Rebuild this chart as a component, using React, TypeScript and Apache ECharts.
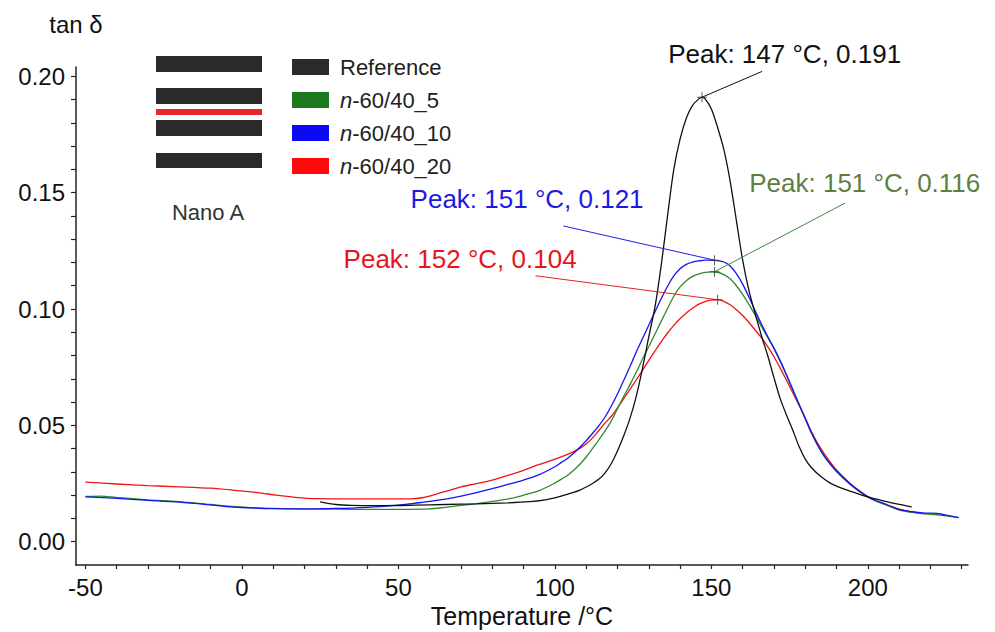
import React, { useEffect, useRef } from "react";
import * as echarts from "echarts";

const FONT = "'Liberation Sans', Arial, Helvetica, sans-serif";

const seriesNames = ["Reference", "n-60/40_5", "n-60/40_10", "n-60/40_20"];
const lineColors = ["#111111", "#2f8a2f", "#1414f0", "#f01414"];
const legendColors = ["#2a2a2a", "#1f7a1f", "#0a0af5", "#ff0a0a"];

const referenceData: [number, number][] = [
  [25, 0.0171], [30, 0.016], [35, 0.0156], [43, 0.0155], [55, 0.0157], [65, 0.016], [75, 0.0163],
  [85, 0.0167], [92, 0.0172], [97, 0.018], [100, 0.0188], [102, 0.0196], [104, 0.0204], [106, 0.0212],
  [108, 0.0222], [110, 0.0235], [112, 0.025], [114, 0.0268], [116, 0.0295], [118, 0.0335], [120, 0.039],
  [122, 0.0455], [124, 0.053], [126, 0.0625], [128, 0.0745], [130, 0.088], [132, 0.101], [134, 0.119],
  [136, 0.14], [138, 0.16], [140, 0.173], [142, 0.182], [144, 0.1875], [146, 0.1903], [147, 0.191],
  [148, 0.1903], [150, 0.186], [152, 0.178], [154, 0.1685], [156, 0.155], [158, 0.138], [160, 0.121],
  [162, 0.108], [164, 0.098], [166, 0.0885], [168, 0.08], [170, 0.0705], [172, 0.0615], [174, 0.0545],
  [176, 0.048], [178, 0.041], [180, 0.0355], [182, 0.0318], [185, 0.028], [188, 0.0252], [192, 0.0228],
  [196, 0.021], [200, 0.0193], [204, 0.0179], [208, 0.0166], [211, 0.0158], [214, 0.015],
];

const n5Data: [number, number][] = [
  [-50, 0.0195], [-45, 0.0196], [-40, 0.019], [-30, 0.018], [-20, 0.0172], [-10, 0.016], [0, 0.0149],
  [10, 0.0143], [20, 0.0141], [30, 0.014], [40, 0.0139], [50, 0.0139], [60, 0.0141], [65, 0.0148],
  [70, 0.0156], [75, 0.0164], [80, 0.0173], [86, 0.0186], [90, 0.02], [95, 0.022], [100, 0.0252],
  [102, 0.0268], [104, 0.0285], [106, 0.0307], [108, 0.0333], [110, 0.0364], [112, 0.04], [114, 0.0437],
  [116, 0.0475], [118, 0.0518], [120, 0.0572], [122, 0.0625], [124, 0.0675], [126, 0.0728], [128, 0.0785],
  [130, 0.0838], [132, 0.0893], [134, 0.0948], [136, 0.1002], [138, 0.1055], [140, 0.1095], [142, 0.1122],
  [144, 0.114], [146, 0.1151], [148, 0.1157], [150, 0.116], [152, 0.1158], [154, 0.1148], [156, 0.113],
  [158, 0.11], [160, 0.1063], [162, 0.102], [164, 0.0973], [166, 0.0925], [168, 0.0878], [170, 0.083],
  [172, 0.0775], [174, 0.0715], [176, 0.0652], [178, 0.059], [180, 0.0528], [182, 0.0466], [184, 0.0413],
  [186, 0.0368], [188, 0.0333], [190, 0.0302], [194, 0.025], [197, 0.0218], [200, 0.0192], [203, 0.0172],
  [206, 0.0157], [210, 0.0136], [214, 0.0126], [218, 0.012], [222, 0.0116], [225, 0.0111], [229, 0.0104],
];

const n10Data: [number, number][] = [
  [-50, 0.0193], [-40, 0.0186], [-30, 0.0178], [-20, 0.017], [-10, 0.0158], [-5, 0.0151], [0, 0.0147],
  [10, 0.0142], [20, 0.0141], [30, 0.0143], [40, 0.0148], [50, 0.0157], [55, 0.0165], [60, 0.0173],
  [65, 0.0183], [70, 0.0196], [75, 0.0211], [80, 0.0228], [85, 0.0246], [90, 0.0265], [95, 0.0288],
  [100, 0.0322], [102, 0.034], [104, 0.0358], [106, 0.038], [108, 0.0406], [110, 0.0434], [112, 0.0465],
  [114, 0.0498], [116, 0.0535], [118, 0.0582], [120, 0.0635], [122, 0.0693], [124, 0.0753], [126, 0.0815],
  [128, 0.0873], [130, 0.093], [132, 0.0988], [134, 0.1045], [136, 0.1098], [138, 0.1142], [140, 0.1173],
  [142, 0.1192], [144, 0.1202], [146, 0.1207], [148, 0.121], [150, 0.121], [152, 0.1208], [154, 0.1202],
  [156, 0.1185], [158, 0.1152], [160, 0.1107], [162, 0.1052], [164, 0.0992], [166, 0.0935], [168, 0.0882],
  [170, 0.0832], [172, 0.0778], [174, 0.0718], [176, 0.0655], [178, 0.0592], [180, 0.053], [182, 0.0468],
  [184, 0.0415], [186, 0.037], [188, 0.0335], [190, 0.0303], [194, 0.0252], [197, 0.022], [200, 0.0193],
  [203, 0.0175], [206, 0.016], [210, 0.0139], [214, 0.0129], [218, 0.0123], [222, 0.0122], [225, 0.0114],
  [229, 0.0104],
];

const n20Data: [number, number][] = [
  [-50, 0.0256], [-40, 0.0248], [-30, 0.0241], [-20, 0.0236], [-10, 0.023], [-3, 0.0222], [5, 0.0211],
  [11, 0.02], [17, 0.0191], [24, 0.0185], [35, 0.0184], [45, 0.0184], [54, 0.0184], [58, 0.019],
  [62, 0.0204], [66, 0.022], [70, 0.0236], [75, 0.025], [80, 0.0265], [85, 0.0285], [90, 0.0307],
  [95, 0.0332], [100, 0.0355], [102, 0.0365], [104, 0.0375], [106, 0.0387], [108, 0.0401], [110, 0.042],
  [112, 0.0445], [114, 0.0477], [116, 0.051], [118, 0.0538], [120, 0.0575], [122, 0.0615], [124, 0.0655],
  [126, 0.0695], [128, 0.0736], [130, 0.0779], [132, 0.082], [134, 0.086], [136, 0.0897], [138, 0.093],
  [140, 0.0958], [142, 0.0983], [144, 0.1003], [146, 0.1021], [148, 0.1032], [150, 0.1038], [152, 0.104],
  [154, 0.1033], [156, 0.1018], [158, 0.0997], [160, 0.0972], [162, 0.0942], [164, 0.091], [166, 0.0877],
  [168, 0.0838], [170, 0.0795], [172, 0.0746], [174, 0.0694], [176, 0.064], [178, 0.0587], [180, 0.0532],
  [182, 0.0472], [184, 0.0422], [186, 0.038], [188, 0.0342], [190, 0.0308], [194, 0.0255], [197, 0.0222],
  [200, 0.0194], [203, 0.0174], [206, 0.0158], [210, 0.014], [214, 0.0128], [218, 0.0122],
];

const seriesData = [referenceData, n5Data, n10Data, n20Data];

// Peak annotations (data coordinates)
const peakLabels = ["Peak: 147 °C, 0.191", "Peak: 151 °C, 0.116", "Peak: 151 °C, 0.121", "Peak: 152 °C, 0.104"];
const peakPoints: [number, number][] = [[147, 0.191], [151, 0.116], [151, 0.121], [152, 0.104]];
const labelAnchors: [number, number][] = [[136.2, 0.2094], [162.1, 0.1541], [53.9, 0.1472], [32.5, 0.1215]];
const leaderStarts: [number, number][] = [[166.2, 0.2021], [192.7, 0.1455], [102.7, 0.1357], [93.8, 0.1143]];
const annotationColors = ["#111111", "#5e7f40", "#1a1ae6", "#e8141c"];
const leaderColors = ["#111111", "#3f8a3f", "#2020e6", "#e82020"];

const xLabelValues = [-50, 0, 50, 100, 150, 200];
const xTickValues = [-50, -40, -30, -20, -10, 0, 10, 20, 30, 40, 50, 60, 70, 80, 90, 100, 110, 120, 130, 140, 150, 160, 170, 180, 190, 200, 210, 220, 230];
const yLabelValues = [0, 0.05, 0.1, 0.15, 0.2];
const yTickValues = [0, 0.01, 0.02, 0.03, 0.04, 0.05, 0.06, 0.07, 0.08, 0.09, 0.1, 0.11, 0.12, 0.13, 0.14, 0.15, 0.16, 0.17, 0.18, 0.19, 0.2];

const CROSS = "path://M4.5,0h1v4.5h4.5v1h-4.5v4.5h-1v-4.5h-4.5v-1h4.5z";

export default function App() {
  const ref = useRef<HTMLDivElement>(null);

  useEffect(() => {
    if (!ref.current) return;
    const chart = echarts.init(ref.current, undefined, { renderer: "svg" });

    const drawOrder = [3, 1, 2, 0];
    const mainSeries = drawOrder.map((i) => ({
      name: seriesNames[i],
      type: "line",
      data: seriesData[i],
      showSymbol: false,
      symbol: "none",
      smooth: 0.3,
      itemStyle: { color: legendColors[i] },
      lineStyle: { color: lineColors[i], width: 1.3 },
      emphasis: { disabled: true },
      z: 2,
    }));

    const leaderSeries = peakPoints.map((p, i) => ({
      name: "leader" + i,
      type: "line",
      data: [leaderStarts[i], p],
      symbol: "none",
      clip: false,
      silent: true,
      lineStyle: { color: leaderColors[i], width: 1 },
      emphasis: { disabled: true },
      z: 3,
    }));

    const crossSeries = {
      name: "peaks",
      type: "scatter",
      symbol: CROSS,
      symbolSize: 10,
      silent: true,
      clip: false,
      data: peakPoints.map((p) => ({ value: p, itemStyle: { color: "#3a3a3a" } })),
      z: 4,
    };

    const richStyle = {
      i: { fontStyle: "italic", fontSize: 22, fontFamily: FONT, color: "#222" },
      r: { fontSize: 22, fontFamily: FONT, color: "#222" },
    };

    chart.setOption({
      animation: false,
      backgroundColor: "#ffffff",
      textStyle: { fontFamily: FONT },
      grid: { left: 76, right: 27, top: 67, bottom: 67, containLabel: false, outerBoundsMode: "none" },
      legend: {
        data: seriesNames,
        orient: "vertical",
        left: 292,
        top: 56,
        padding: 0,
        itemWidth: 37,
        itemHeight: 16,
        itemGap: 11,
        icon: "rect",
        selectedMode: false,
        textStyle: { fontSize: 22, lineHeight: 16, color: "#222", padding: [0, 0, 0, 6], rich: richStyle },
        formatter: (name: string) =>
          name.startsWith("n-") ? "{i|n}{r|" + name.slice(1) + "}" : "{r|" + name + "}",
      },
      xAxis: {
        type: "value",
        min: -53,
        max: 232,
        name: "Temperature /°C",
        nameLocation: "middle",
        nameGap: 47,
        nameTextStyle: { fontSize: 25, color: "#111", verticalAlign: "middle", fontFamily: FONT },
        axisLine: { show: true, onZero: false, lineStyle: { color: "#222", width: 1.5 } },
        axisTick: { show: true, customValues: xTickValues, length: 4, lineStyle: { color: "#222", width: 1.2 } },
        axisLabel: {
          customValues: xLabelValues,
          fontSize: 24,
          color: "#111",
          margin: 10,
          fontFamily: FONT,
        },
        splitLine: { show: false },
      },
      yAxis: {
        type: "value",
        min: -0.01,
        max: 0.204,
        name: "tan δ",
        nameLocation: "end",
        nameGap: 43,
        nameTextStyle: { fontSize: 24, color: "#111", align: "center", verticalAlign: "middle", fontFamily: FONT },
        axisLine: { show: true, onZero: false, lineStyle: { color: "#222", width: 1.5 } },
        axisTick: { show: true, customValues: yTickValues, length: 5, lineStyle: { color: "#222", width: 1.2 } },
        axisLabel: {
          customValues: yLabelValues,
          fontSize: 24,
          color: "#111",
          margin: 11,
          fontFamily: FONT,
          formatter: (v: number) => v.toFixed(2),
        },
        splitLine: { show: false },
      },
      series: [...mainSeries, ...leaderSeries, crossSeries],
    });

    const texts = peakLabels.map((t, i) => {
      const [px, py] = chart.convertToPixel({ gridIndex: 0 }, labelAnchors[i]) as number[];
      return {
        type: "text",
        x: px,
        y: py,
        silent: true,
        style: {
          text: t,
          fill: annotationColors[i],
          fontSize: 26,
          fontFamily: FONT,
          align: "left",
          verticalAlign: "middle",
        },
        z: 10,
      };
    });

    const barColor = "#2a2a2a";
    chart.setOption({
      graphic: [
        { type: "rect", shape: { x: 156, y: 56, width: 106, height: 16 }, style: { fill: barColor }, silent: true },
        { type: "rect", shape: { x: 156, y: 88, width: 106, height: 16 }, style: { fill: barColor }, silent: true },
        { type: "rect", shape: { x: 156, y: 109, width: 106, height: 6 }, style: { fill: "#e8262e" }, silent: true },
        { type: "rect", shape: { x: 156, y: 120, width: 106, height: 16 }, style: { fill: barColor }, silent: true },
        { type: "rect", shape: { x: 156, y: 153, width: 106, height: 15 }, style: { fill: barColor }, silent: true },
        {
          type: "text",
          x: 208,
          y: 212,
          silent: true,
          style: { text: "Nano A", fill: "#333", fontSize: 22, fontFamily: FONT, align: "center", verticalAlign: "middle" },
        },
        ...texts,
      ],
    });

    return () => chart.dispose();
  }, []);

  return <div ref={ref} style={{ position: "absolute", left: 0, top: 0, width: 995, height: 632, background: "#fff" }} />;
}
